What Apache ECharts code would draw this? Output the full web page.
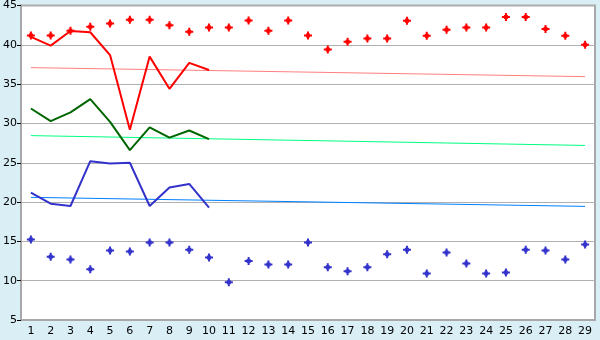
<!DOCTYPE html>
<html><head><meta charset="utf-8">
<script src="https://cdn.jsdelivr.net/npm/echarts@6/dist/echarts.min.js"></script>
<style>html,body{margin:0;padding:0;background:#d9eef5;}#c{width:600px;height:340px;}</style>
</head><body><div id="c"></div>
<script>
var categories = ['1','2','3','4','5','6','7','8','9','10','11','12','13','14','15','16','17','18','19','20','21','22','23','24','25','26','27','28','29'];
var redPoints = [41.2,41.2,41.8,42.3,42.7,43.2,43.2,42.5,41.65,42.2,42.2,43.1,41.8,43.1,41.2,39.4,40.4,40.8,40.8,43.05,41.15,41.9,42.2,42.2,43.55,43.55,42.0,41.15,40.0];
var bluePoints = [15.25,13.05,12.7,11.45,13.85,13.7,14.85,14.85,13.95,12.95,9.8,12.5,12.05,12.05,14.85,11.7,11.2,11.7,13.35,13.95,10.9,13.6,12.2,10.9,11.05,13.95,13.85,12.7,14.6];
var redLine = [41.0,39.9,41.75,41.6,38.7,29.2,38.5,34.4,37.7,36.8];
var greenLine = [31.9,30.3,31.4,33.1,30.2,26.6,29.5,28.2,29.1,28.0];
var blueLine = [21.2,19.8,19.5,25.2,24.9,25.0,19.5,21.85,22.3,19.3];
var redTrend = [37.1,35.95];
var greenTrend = [28.45,27.2];
var blueTrend = [20.6,19.45];
var yTicks = [5,10,15,20,25,30,35,40,45];

function trendData(t){
  var d = categories.map(function(){return null;});
  d[0] = t[0]; d[d.length-1] = t[1];
  return d;
}
var plus = 'path://M3,0h2v2h1v1h2v2h-2v1h-1v2h-2v-2h-1v-1h-2v-2h2v-1h1z';
var chart = echarts.init(document.getElementById('c'));
chart.setOption({
  backgroundColor: '#d9eef5',
  animation: false,
  grid: {left: 20, right: 5, top: 5, bottom: 20, show: true, backgroundColor: '#ffffff', borderColor: '#a8a8a8', borderWidth: 2},
  xAxis: {
    type: 'category', data: categories, boundaryGap: true,
    axisLine: {lineStyle: {color: '#a8a8a8', width: 2}},
    axisTick: {alignWithLabel: true, length: 5, lineStyle: {color: '#000'}},
    axisLabel: {color: '#000', fontFamily: 'DejaVu Sans', fontSize: 11, margin: 6, interval: 0},
    splitLine: {show: false}
  },
  yAxis: {
    type: 'value', min: yTicks[0], max: yTicks[yTicks.length-1], interval: 5,
    axisLine: {show: true, lineStyle: {color: '#a8a8a8', width: 2}},
    axisTick: {show: true, length: 4, lineStyle: {color: '#000'}},
    axisLabel: {color: '#000', fontFamily: 'DejaVu Sans', fontSize: 11, margin: 4},
    splitLine: {lineStyle: {color: '#b0b0b0', width: 1}}
  },
  series: [
    {type: 'line', data: trendData(redTrend), connectNulls: true, symbol: 'none', lineStyle: {color: '#ff8080', width: 1}, z: 2},
    {type: 'line', data: trendData(greenTrend), connectNulls: true, symbol: 'none', lineStyle: {color: '#00ff80', width: 1}, z: 2},
    {type: 'line', data: trendData(blueTrend), connectNulls: true, symbol: 'none', lineStyle: {color: '#0080ff', width: 1}, z: 2},
    {type: 'line', data: redLine, symbol: 'none', lineStyle: {color: '#ff0000', width: 2}, z: 3},
    {type: 'line', data: greenLine, symbol: 'none', lineStyle: {color: '#006600', width: 2}, z: 3},
    {type: 'line', data: blueLine, symbol: 'none', lineStyle: {color: '#3333cc', width: 2}, z: 3},
    {type: 'scatter', data: redPoints, symbol: plus, symbolSize: 8, itemStyle: {color: '#ff0000', opacity: 1}, z: 4},
    {type: 'scatter', data: bluePoints, symbol: plus, symbolSize: 8, itemStyle: {color: '#3333cc', opacity: 1}, z: 4}
  ]
});
</script></body></html>
